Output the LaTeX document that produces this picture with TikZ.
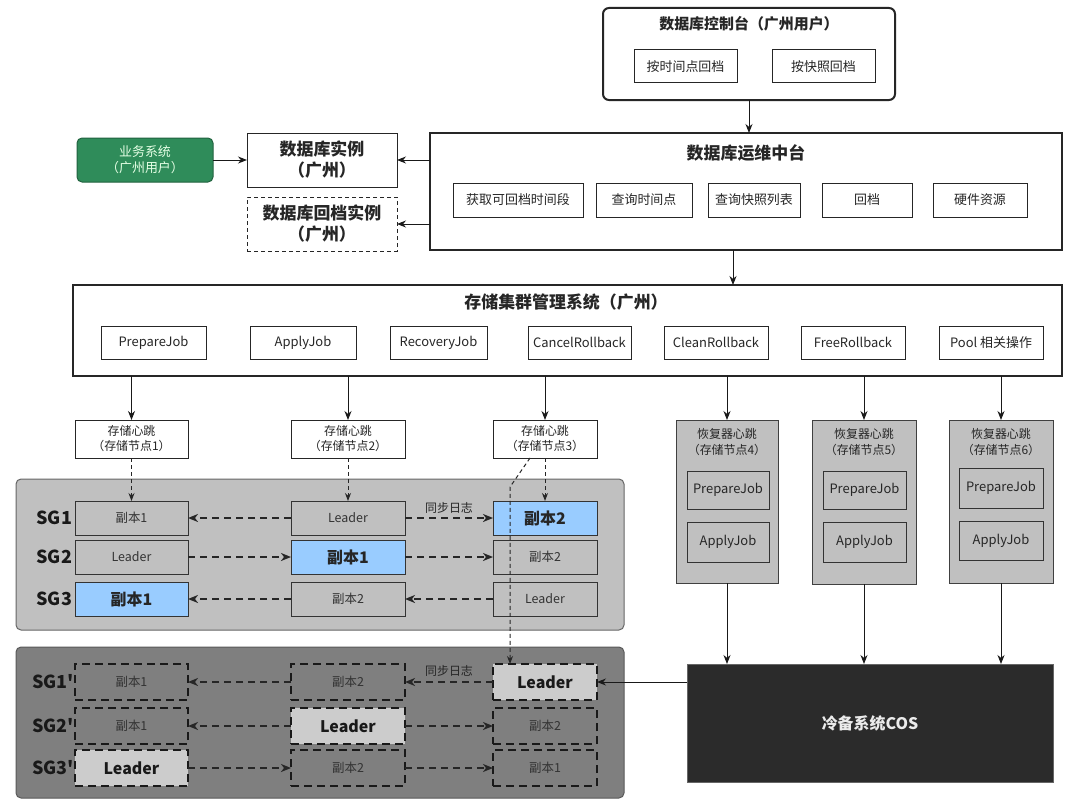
\documentclass[tikz,border=0pt]{standalone}
\usepackage{fontspec}
\setmainfont{Noto Sans CJK SC}
\usetikzlibrary{arrows.meta,calc}
\newcommand\fs[2]{\fontsize{#1}{#2}\selectfont}
\newcommand\bx[7]{\node[#6, minimum width={((#4)-(#2))*1bp}, minimum height={((#5)-(#3))*1bp}] (#1) at ({((#2)+(#4))/2},{((#3)+(#5))/2}) {#7};}
\definecolor{gpanel}{HTML}{C0C0C0}
\definecolor{dpanel}{HTML}{7F7F7F}
\definecolor{bluefill}{HTML}{99CCFF}
\definecolor{greenfill}{HTML}{2F8C5A}
\definecolor{cosfill}{HTML}{2B2B2B}
\begin{document}
\begin{tikzpicture}[x=1bp,y=-1bp,
  base/.style={inner sep=0pt, outer sep=0pt, align=center, text=black!85},
  wbox/.style={base, draw=black!85, line width=1bp, fill=white, font=\fs{13}{16}},
  bigbox/.style={base, draw=black!85, line width=2bp, fill=white},
  instbox/.style={base, draw=black!85, line width=1bp, fill=white, font=\bfseries\fs{17}{21}},
  title/.style={base, font=\bfseries\fs{17}{20}},
  hbbox/.style={base, draw=black!85, line width=1bp, fill=white, font=\fs{12}{15}},
  recbox/.style={base, draw=black!75, line width=1bp, fill=gpanel},
  recin/.style={base, draw=black!80, line width=1bp, fill=gpanel, font=\fs{13}{16}},
  gbox/.style={base, draw=black!80, line width=1bp, font=\fs{12.5}{15}, text=black!80},
  bbox/.style={base, draw=black!80, line width=1bp, fill=bluefill, font=\bfseries\fs{16}{19}},
  dbox/.style={base, draw=black!90, line width=2bp, dash pattern=on 8bp off 5bp, font=\fs{12.5}{15}, text=black!80},
  dlbox/.style={dbox, fill=black!20, font=\bfseries\fs{16}{19}, text=black!90},
  sglab/.style={base, font=\bfseries\fs{18}{20}, text=black!90, anchor=east},
  synclab/.style={base, font=\fs{12}{14}, text=black!85},
  arr/.style={-{Stealth[length=9bp,width=7bp]}, line width=1bp, draw=black!90},
  rep/.style={-{Stealth[length=10bp,width=8bp,inset=3bp]}, line width=2bp, dash pattern=on 7bp off 5bp, draw=black!85},
  hbl/.style={-{Stealth[length=8bp,width=6bp]}, line width=1bp, dash pattern=on 4bp off 3bp, draw=black!85}
]
\useasboundingbox[fill=white] (0,0) rectangle (1080,808);

% ---------- top console ----------
\bx{con}{603}{8}{895}{100}{bigbox, rounded corners=6bp}{}
\node[title, font=\bfseries\fs{15}{18}] (cont) at (749,24) {数据库控制台（广州用户）};
\bx{btn1}{634}{50}{737}{83}{wbox}{按时间点回档}
\bx{btn2}{772}{50}{875}{83}{wbox}{按快照回档}

% ---------- ops platform ----------
\bx{ops}{430}{133}{1062}{250}{bigbox}{}
\node[title] (opst) at (746,153) {数据库运维中台};
\bx{op1}{453}{183}{583}{217}{wbox}{获取可回档时间段}
\bx{op2}{596}{183}{692}{217}{wbox}{查询时间点}
\bx{op3}{708}{183}{800}{217}{wbox}{查询快照列表}
\bx{op4}{822}{183}{912}{217}{wbox}{回档}
\bx{op5}{933}{183}{1027}{217}{wbox}{硬件资源}

% ---------- instances ----------
\bx{biz}{77}{138}{213}{182}{base, rounded corners=5bp, draw=greenfill!70!black, line width=1bp, fill=greenfill, font=\fs{13}{16}, text=white!90!green}{业务系统\\（广州用户）}
\bx{inst}{247}{133}{397}{187}{instbox}{数据库实例\\（广州）}
\bx{rb}{247}{197}{397}{251}{instbox, dash pattern=on 4bp off 3bp}{数据库回档实例\\（广州）}

% ---------- storage management ----------
\bx{stor}{73}{285}{1062}{376}{bigbox}{}
\node[title] (stort) at (566,302) {存储集群管理系统（广州）};
\bx{s1}{101}{326}{206}{359}{wbox}{PrepareJob}
\bx{s2}{250}{326}{356}{359}{wbox}{ApplyJob}
\bx{s3}{390}{326}{487}{359}{wbox}{RecoveryJob}
\bx{s4}{528}{326}{631}{359}{wbox}{CancelRollback}
\bx{s5}{664}{326}{768}{359}{wbox}{CleanRollback}
\bx{s6}{801}{326}{905}{359}{wbox}{FreeRollback}
\bx{s7}{939}{326}{1043}{359}{wbox}{Pool 相关操作}

% ---------- heartbeats ----------
\bx{hb1}{75}{420}{188}{458}{hbbox}{存储心跳\\（存储节点1）}
\bx{hb2}{291}{420}{405}{458}{hbbox}{存储心跳\\（存储节点2）}
\bx{hb3}{493}{420}{597}{458}{hbbox}{存储心跳\\（存储节点3）}

% ---------- recoverers ----------
\bx{rec1}{676}{420}{778}{583}{recbox}{}
\bx{rec2}{812}{420}{916}{584}{recbox}{}
\bx{rec3}{949}{420}{1053}{583}{recbox}{}
\node[base, font=\fs{12}{16}] (rl1) at (727,442) {恢复器心跳\\（存储节点4）};
\node[base, font=\fs{12}{16}] (rl2) at (864,442) {恢复器心跳\\（存储节点5）};
\node[base, font=\fs{12}{16}] (rl3) at (1001,442) {恢复器心跳\\（存储节点6）};
\bx{rp1}{687}{471}{769}{509}{recin}{PrepareJob}
\bx{ra1}{687}{522}{769}{562}{recin}{ApplyJob}
\bx{rp2}{823}{471}{906}{509}{recin}{PrepareJob}
\bx{ra2}{823}{522}{906}{562}{recin}{ApplyJob}
\bx{rp3}{959}{468}{1043}{508}{recin}{PrepareJob}
\bx{ra3}{959}{521}{1043}{560}{recin}{ApplyJob}

% ---------- COS ----------
\bx{cos}{687}{664}{1053}{782}{base, fill=cosfill, draw=black!60, line width=1bp, font=\bfseries\fs{16}{19}, text=white!92!black}{冷备系统COS}

% ---------- panels ----------
\bx{up}{16}{479}{624}{630}{base, rounded corners=5bp, fill=gpanel, draw=black!60, line width=1bp}{}
\bx{lp}{16}{647}{624}{798}{base, rounded corners=5bp, fill=dpanel, draw=black!65, line width=1bp}{}

\node[sglab] (sg1) at (72,518) {SG1};
\node[sglab] (sg2) at (72,557) {SG2};
\node[sglab] (sg3) at (72,599) {SG3};
\node[sglab] (sg1p) at (74,682) {SG1\textquotesingle};
\node[sglab] (sg2p) at (74,726) {SG2\textquotesingle};
\node[sglab] (sg3p) at (74,768) {SG3\textquotesingle};

\bx{u11}{75}{501}{188}{535}{gbox}{副本1}
\bx{u12}{291}{501}{405}{535}{gbox}{Leader}
\bx{u13}{493}{501}{597}{535}{bbox}{副本2}
\bx{u21}{75}{540}{188}{574}{gbox}{Leader}
\bx{u22}{291}{540}{405}{574}{bbox}{副本1}
\bx{u23}{493}{540}{597}{574}{gbox}{副本2}
\bx{u31}{75}{582}{188}{616}{bbox}{副本1}
\bx{u32}{291}{582}{405}{616}{gbox}{副本2}
\bx{u33}{493}{582}{597}{616}{gbox}{Leader}

\bx{l11}{75}{664}{188}{700}{dbox}{副本1}
\bx{l12}{291}{664}{405}{700}{dbox}{副本2}
\bx{l13}{493}{664}{597}{700}{dlbox}{Leader}
\bx{l21}{75}{708}{188}{744}{dbox}{副本1}
\bx{l22}{291}{708}{405}{744}{dlbox}{Leader}
\bx{l23}{493}{708}{597}{744}{dbox}{副本2}
\bx{l31}{75}{750}{188}{786}{dlbox}{Leader}
\bx{l32}{291}{750}{405}{786}{dbox}{副本2}
\bx{l33}{493}{750}{597}{786}{dbox}{副本1}

% ---------- replication arrows ----------
\draw[rep] (u12.west) -- (u11.east);
\draw[rep] (u12.east) -- (u13.west) node[synclab, midway, above=5bp] (sy1) {同步日志};
\draw[rep] (u21.east) -- (u22.west);
\draw[rep] (u22.east) -- (u23.west);
\draw[rep] (u33.west) -- (u32.east);
\draw[rep] (u32.west) -- (u31.east);

\draw[rep] (l13.west) -- (l12.east) node[synclab, midway, above=6bp] (sy2) {同步日志};
\draw[rep] (l12.west) -- (l11.east);
\draw[rep] (l22.west) -- (l21.east);
\draw[rep] (l22.east) -- (l23.west);
\draw[rep] (l31.east) -- (l32.west);
\draw[rep] (l32.east) -- (l33.west);

% ---------- solid arrows ----------
\draw[arr] (con.south) -- (con.south |- ops.north);
\draw[arr] (ops.west |- inst.east) -- (inst.east);
\draw[arr] (ops.west |- rb.east) -- (rb.east);
\draw[arr] (biz.east) -- (biz.east -| inst.west);
\draw[arr] ([xshift=-13bp]ops.south) -- ([xshift=-13bp]ops.south |- stor.north);
\draw[arr] (stor.south -| hb1.north) -- (hb1.north);
\draw[arr] (stor.south -| hb2.north) -- (hb2.north);
\draw[arr] (stor.south -| hb3.north) -- (hb3.north);
\draw[arr] (stor.south -| rec1.north) -- (rec1.north);
\draw[arr] (stor.south -| rec2.north) -- (rec2.north);
\draw[arr] (stor.south -| rec3.north) -- (rec3.north);
\draw[arr] (rec1.south) -- (rec1.south |- cos.north);
\draw[arr] (rec2.south) -- (rec2.south |- cos.north);
\draw[arr] (rec3.south) -- (rec3.south |- cos.north);
\draw[arr] (cos.west |- l13.east) -- (l13.east);

% ---------- heartbeat dashed links ----------
\draw[hbl] (hb1.south) -- (u11.north);
\draw[hbl] (hb2.south) -- (u12.north);
\draw[hbl] (hb3.south) -- (u13.north);
\coordinate (d1) at ($(hb3.south west)+(37,0)$);
\coordinate (d2) at ($(l13.north west)+(17,-177)$);
\coordinate (d3) at ($(l13.north west)+(17,0)$);
\draw[hbl] (d1) -- (d2) -- (d3);
\end{tikzpicture}
\end{document}
